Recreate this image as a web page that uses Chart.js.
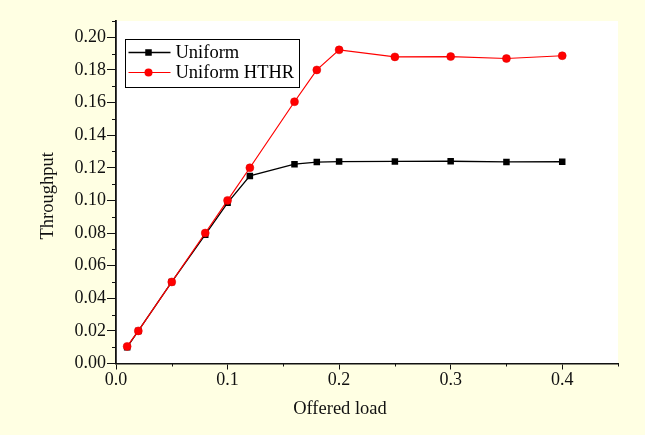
<!DOCTYPE html>
<html>
<head>
<meta charset="utf-8">
<script src="https://cdn.jsdelivr.net/npm/chart.js"></script>
<style>
  html, body { margin: 0; padding: 0; background: #FFFFE3; }
  canvas { display: block; }
</style>
</head>
<body>
<canvas id="chart" width="645" height="435"></canvas>
<script>
// Offered load (x) and measured throughput for each scheme
const offeredLoad = [0.01, 0.02, 0.05, 0.08, 0.10, 0.12, 0.16, 0.18, 0.20, 0.25, 0.30, 0.35, 0.40];
const uniform     = [0.010, 0.020, 0.050, 0.079, 0.0985, 0.115, 0.1222, 0.1235, 0.1238, 0.1239, 0.1240, 0.1236, 0.1237];
const uniformHTHR = [0.0105, 0.020, 0.050, 0.080, 0.100, 0.120, 0.1605, 0.1800, 0.1923, 0.1880, 0.1882, 0.1870, 0.1887];

const seriesLabels = ['Uniform', 'Uniform HTHR'];
const xTitle = 'Offered load';
const yTitle = 'Throughput';

// Minor tick positions between the labelled ones
const xMinorTicks = [0.05, 0.15, 0.25, 0.35, 0.45];
const yMinorTicks = [0.01, 0.03, 0.05, 0.07, 0.09, 0.11, 0.13, 0.15, 0.17, 0.19, 0.21];

const FONT = 'Liberation Serif';
const PAGE_BG = '#FFFFE3';
const TEXT = '#111';

const toPoints = (ys) => offeredLoad.map((x, i) => ({ x: x, y: ys[i] }));

// Page background and white plotting area
const backgroundPlugin = {
  id: 'backgrounds',
  beforeDraw(chart) {
    const { ctx, chartArea: a } = chart;
    ctx.save();
    ctx.fillStyle = PAGE_BG;
    ctx.fillRect(0, 0, chart.width, chart.height);
    ctx.fillStyle = '#FFFFFF';
    ctx.fillRect(a.left, a.top, a.right - a.left, a.bottom - a.top);
    ctx.restore();
  }
};

// Short unlabelled ticks drawn through each scale
const minorTickPlugin = {
  id: 'minorTicks',
  afterDraw(chart) {
    const { ctx, scales: { x, y }, chartArea: a } = chart;
    ctx.save();
    ctx.strokeStyle = TEXT;
    ctx.lineWidth = 1;
    ctx.beginPath();
    xMinorTicks.forEach(v => {
      const px = Math.round(x.getPixelForValue(v)) + 0.5;
      ctx.moveTo(px, a.bottom);
      ctx.lineTo(px, a.bottom + 3);
    });
    yMinorTicks.forEach(v => {
      const py = Math.round(y.getPixelForValue(v)) + 0.5;
      ctx.moveTo(a.left, py);
      ctx.lineTo(a.left - 4, py);
    });
    ctx.stroke();
    ctx.restore();
  }
};

// Axis titles
const axisTitlePlugin = {
  id: 'axisTitles',
  afterDraw(chart) {
    const { ctx, chartArea: a } = chart;
    ctx.save();
    ctx.fillStyle = TEXT;
    ctx.font = '18.5px "' + FONT + '"';
    ctx.textAlign = 'center';
    ctx.textBaseline = 'alphabetic';
    ctx.fillText(xTitle, a.left + 224, 414);
    ctx.translate(53, (a.top + a.bottom) / 2 + 3.5);
    ctx.rotate(-Math.PI / 2);
    ctx.fillText(yTitle, 0, 0);
    ctx.restore();
  }
};

// Boxed legend inside the plotting area
const boxedLegendPlugin = {
  id: 'boxedLegend',
  afterDraw(chart) {
    const { ctx, chartArea: a } = chart;
    const bx = a.left + 9.5, by = a.top + 18.5, bw = 174, bh = 48;
    const rowY = [by + 13, by + 33];
    ctx.save();
    ctx.fillStyle = '#FFFFFF';
    ctx.fillRect(bx, by, bw, bh);
    ctx.strokeStyle = '#000';
    ctx.lineWidth = 1;
    ctx.strokeRect(bx, by, bw, bh);
    chart.data.datasets.forEach((ds, i) => {
      const yy = rowY[i];
      ctx.strokeStyle = ds.borderColor;
      ctx.lineWidth = ds.borderWidth;
      ctx.beginPath();
      ctx.moveTo(bx + 3, yy);
      ctx.lineTo(bx + 45, yy);
      ctx.stroke();
      const mx = bx + 23, r = ds.pointRadius;
      ctx.fillStyle = ds.pointBackgroundColor;
      if (ds.pointStyle === 'rect') {
        const s = r * Math.SQRT1_2;
        ctx.fillRect(mx - s, yy - s, 2 * s, 2 * s);
      } else {
        ctx.beginPath();
        ctx.arc(mx, yy, r, 0, Math.PI * 2);
        ctx.fill();
      }
      ctx.fillStyle = '#000';
      ctx.font = '18.5px "' + FONT + '"';
      ctx.textBaseline = 'middle';
      ctx.textAlign = 'left';
      ctx.fillText(ds.label, bx + 50, yy + 1);
    });
    ctx.restore();
  }
};

new Chart(document.getElementById('chart'), {
  type: 'line',
  data: {
    datasets: [
      {
        label: seriesLabels[0],
        data: toPoints(uniform),
        borderColor: '#000000',
        backgroundColor: '#000000',
        pointBackgroundColor: '#000000',
        pointBorderColor: '#000000',
        borderWidth: 1.3,
        pointStyle: 'rect',
        pointRadius: 4.6,
        pointBorderWidth: 0,
        tension: 0,
        order: 1
      },
      {
        label: seriesLabels[1],
        data: toPoints(uniformHTHR),
        borderColor: '#FF0000',
        backgroundColor: '#FF0000',
        pointBackgroundColor: '#FF0000',
        pointBorderColor: '#E00000',
        borderWidth: 1.2,
        pointStyle: 'circle',
        pointRadius: 4,
        pointBorderWidth: 0.5,
        tension: 0,
        order: 0
      }
    ]
  },
  options: {
    responsive: false,
    animation: false,
    devicePixelRatio: 1,
    layout: { padding: { top: 21, right: 27, left: 0, bottom: 0 } },
    plugins: {
      legend: { display: false },
      tooltip: { enabled: false }
    },
    scales: {
      x: {
        type: 'linear',
        min: 0,
        max: 0.45,
        afterFit(scale) { scale.height = 71.5; },
        border: { display: true, color: TEXT, width: 1.5 },
        grid: { drawOnChartArea: false, drawTicks: true, tickLength: 6, tickColor: TEXT, tickWidth: 1 },
        ticks: {
          stepSize: 0.1,
          includeBounds: false,
          padding: 0,
          color: TEXT,
          font: { family: FONT, size: 18 },
          maxRotation: 0,
          callback: (v) => Number(v).toFixed(1)
        },
        title: { display: false }
      },
      y: {
        type: 'linear',
        min: 0,
        max: 0.21,
        afterFit(scale) { scale.width = 116; },
        border: { display: true, color: TEXT, width: 1.8 },
        grid: { drawOnChartArea: false, drawTicks: true, tickLength: 9, tickColor: TEXT, tickWidth: 1 },
        ticks: {
          stepSize: 0.02,
          includeBounds: false,
          padding: 1,
          color: TEXT,
          font: { family: FONT, size: 18 },
          callback: (v) => Number(v).toFixed(2)
        },
        title: { display: false }
      }
    }
  },
  plugins: [backgroundPlugin, minorTickPlugin, axisTitlePlugin, boxedLegendPlugin]
});
</script>
</body>
</html>
